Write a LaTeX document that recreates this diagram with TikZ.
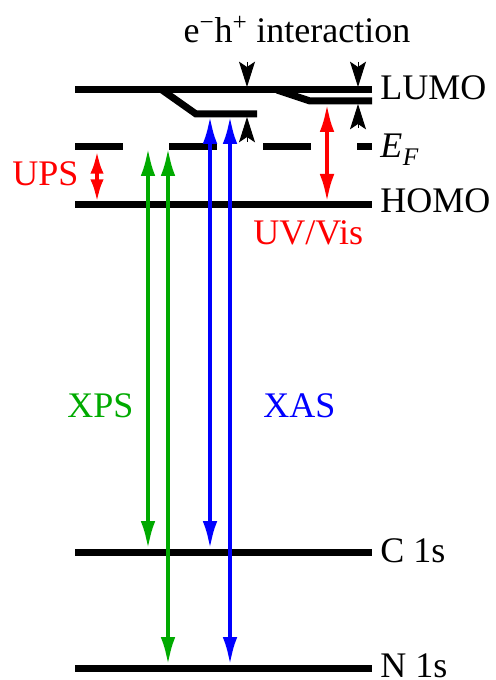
\documentclass[tikz,border=0pt]{standalone}
\usepackage{fontspec}
\setmainfont{Liberation Serif}
\usetikzlibrary{arrows.meta}
\definecolor{xgreen}{RGB}{0,170,0}
\definecolor{xblue}{RGB}{0,0,255}
\definecolor{xred}{RGB}{255,0,0}
\tikzset{
  level/.style={line width=5.25pt},
  lbl/.style={anchor=base west, inner sep=0pt, font=\fontsize{27}{30}\selectfont},
  bigarrow/.style={line width=3pt, {Latex[length=21pt,width=11pt]}-{Latex[length=21pt,width=11pt]}},
  smallarrow/.style={line width=3pt, {Latex[length=17pt,width=10pt]}-{Latex[length=17pt,width=10pt]}},
  wedge/.style={line width=0.75pt, -{Stealth[length=19pt,width=12pt,inset=4pt]}}
}
\begin{document}
\begin{tikzpicture}[x=0.75pt,y=-0.75pt]
\useasboundingbox (0,0) rectangle (495,680);
% level coordinates
\coordinate (lumoL) at (75,90);   \coordinate (lumoR) at (372,90);
\coordinate (efL) at (75,147);    \coordinate (efR) at (372,147);
\coordinate (homoL) at (75,205);  \coordinate (homoR) at (372,205);
\coordinate (c1sL) at (75,552);   \coordinate (c1sR) at (372,552);
\coordinate (n1sL) at (75,668);   \coordinate (n1sR) at (372,668);
% branches
\coordinate (b1a) at (162,90); \coordinate (b1b) at (196,114); \coordinate (b1c) at (257,114);
\coordinate (b2a) at (277,90); \coordinate (b2b) at (310,101); \coordinate (b2c) at (372,101);
% levels
\draw[level] (lumoL) -- (lumoR);
\draw[level, line join=miter] (b1a) -- (b1b) -- (b1c);
\draw[level, line join=miter] (b2a) -- (b2b) -- (b2c);
\draw[level, dash pattern=on 36pt off 34.5pt] (efL) -- (efR);
\draw[level] (homoL) -- (homoR);
\draw[level] (c1sL) -- (c1sR);
\draw[level] (n1sL) -- (n1sR);
% interaction wedges
\coordinate (w1t) at (247,62);  \coordinate (w1tt) at (247,87);
\coordinate (w1b) at (247,142); \coordinate (w1bt) at (247,117);
\coordinate (w2t) at (358,62);  \coordinate (w2tt) at (358,87);
\coordinate (w2b) at (358,128); \coordinate (w2bt) at (358,104);
\draw[wedge] (w1t) -- (w1tt);
\draw[wedge] (w1b) -- (w1bt);
\draw[wedge] (w2t) -- (w2tt);
\draw[wedge] (w2b) -- (w2bt);
% transition arrows
\coordinate (upsT) at (97,151);  \coordinate (upsB) at (97,202);
\coordinate (uvT) at (327,104);  \coordinate (uvB) at (327,202);
\coordinate (g1T) at (148,148);  \coordinate (g1B) at (148,549);
\coordinate (g2T) at (168,148);  \coordinate (g2B) at (168,665);
\coordinate (bl1T) at (210,116); \coordinate (bl1B) at (210,549);
\coordinate (bl2T) at (230,116); \coordinate (bl2B) at (230,665);
\draw[smallarrow, xred] (upsT) -- (upsB);
\draw[bigarrow, xred] (uvT) -- (uvB);
\draw[bigarrow, xgreen] (g1T) -- (g1B);
\draw[bigarrow, xgreen] (g2T) -- (g2B);
\draw[bigarrow, xblue] (bl1T) -- (bl1B);
\draw[bigarrow, xblue] (bl2T) -- (bl2B);
% labels
\node[lbl, anchor=base] (inter) at (297,43) {e\textsuperscript{−}h\textsuperscript{+} interaction};
\node[lbl] (lumo) at (380,100) {LUMO};
\node[lbl] (ef) at (380,158) {\itshape E\kern0.5pt\raisebox{-0.22em}{\fontsize{19}{20}\selectfont F}};
\node[lbl] (homo) at (380,213) {HOMO};
\node[lbl] (c1s) at (380,562) {C 1s};
\node[lbl] (n1s) at (380,677) {N 1s};
\node[lbl, text=xred] (ups) at (12,186) {UPS};
\node[lbl, text=xred] (uvvis) at (253,245) {UV/Vis};
\node[lbl, text=xgreen] (xps) at (67,417) {XPS};
\node[lbl, text=xblue] (xas) at (263,417) {XAS};
\end{tikzpicture}
\end{document}
